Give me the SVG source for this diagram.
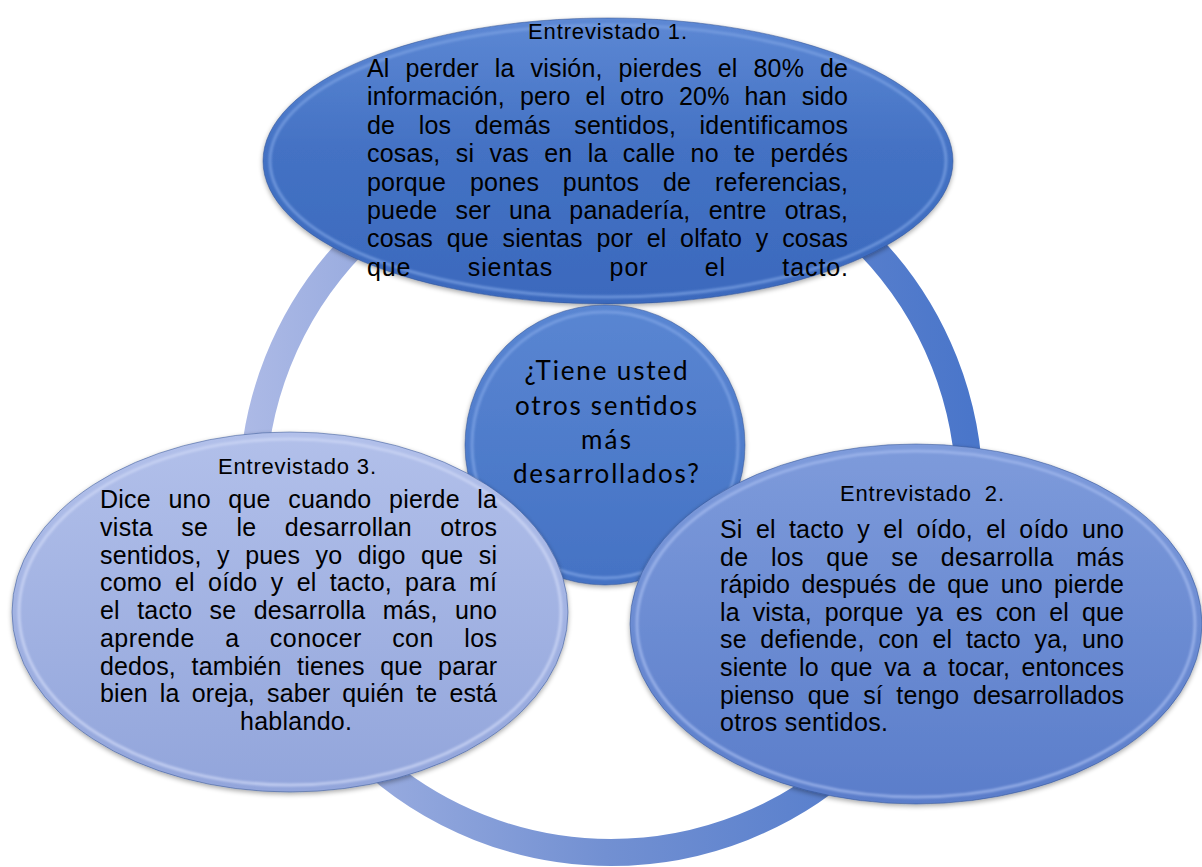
<svg xmlns="http://www.w3.org/2000/svg" width="1202" height="867" viewBox="0 0 1202 867">
<defs>
  <linearGradient id="ringGrad" gradientUnits="userSpaceOnUse" x1="240" y1="0" x2="970" y2="0">
    <stop offset="0" stop-color="#adbae6"/>
    <stop offset="0.5" stop-color="#7290d2"/>
    <stop offset="1" stop-color="#4a76ca"/>
  </linearGradient>
  <linearGradient id="gTop" x1="0" y1="0" x2="0" y2="1">
    <stop offset="0" stop-color="#5d88d4"/>
    <stop offset="0.45" stop-color="#4472c4"/>
    <stop offset="1" stop-color="#3b69bd"/>
  </linearGradient>
  <linearGradient id="gCenter" x1="0" y1="0" x2="0" y2="1">
    <stop offset="0" stop-color="#5a86d2"/>
    <stop offset="1" stop-color="#4472c4"/>
  </linearGradient>
  <linearGradient id="gLeft" x1="0" y1="0" x2="0" y2="1">
    <stop offset="0" stop-color="#b2c0ea"/>
    <stop offset="1" stop-color="#92a5db"/>
  </linearGradient>
  <linearGradient id="gRight" x1="0" y1="0" x2="0" y2="1">
    <stop offset="0" stop-color="#7e9bdb"/>
    <stop offset="1" stop-color="#5a7dca"/>
  </linearGradient>
  <filter id="shadow" x="-10%" y="-10%" width="120%" height="125%">
    <feGaussianBlur in="SourceAlpha" stdDeviation="2.5"/>
    <feOffset dx="0" dy="2" result="b"/>
    <feComponentTransfer><feFuncA type="linear" slope="0.35"/></feComponentTransfer>
    <feMerge><feMergeNode/><feMergeNode in="SourceGraphic"/></feMerge>
  </filter>
  <filter id="soft" x="-5%" y="-5%" width="110%" height="110%">
    <feGaussianBlur stdDeviation="1.2"/>
  </filter>
</defs>
<style>
  .edge { stroke: #2f4f8f; stroke-width: 1; stroke-opacity: 0.5; }
  .rim { fill: none; stroke-width: 3; stroke-opacity: 0.75; }
  .body { font-family: "Liberation Sans", Arial, sans-serif; font-size: 25px; fill: #000; }
  .head { font-family: "Liberation Sans", Arial, sans-serif; font-size: 22px; fill: #000; text-anchor: middle; }
  .q { font-family: Lato, "Open Sans", sans-serif; font-size: 26px; fill: #000; text-anchor: middle; }
</style>
<rect width="1202" height="867" fill="#ffffff"/>

<g id="connectors">
  <circle cx="611" cy="494" r="358.5" fill="none" stroke="url(#ringGrad)" stroke-width="27"/>
</g>

<g id="node-entrevistado1">
  <ellipse cx="608" cy="161" rx="345" ry="143" fill="url(#gTop)" class="edge" filter="url(#shadow)"/>
  <ellipse cx="608" cy="161" rx="338" ry="136" class="rim" stroke="#7aa0e2" filter="url(#soft)"/>
  <text class="head" x="607.5" y="39" textLength="159" lengthAdjust="spacing">Entrevistado 1.</text>
  <text class="body" x="367" y="77" textLength="481" word-spacing="8.8">Al perder la visión, pierdes el 80% de</text>
  <text class="body" x="367" y="105.4" textLength="481" word-spacing="7.9">información, pero el otro 20% han sido</text>
  <text class="body" x="367" y="133.8" textLength="481" word-spacing="16.3">de los demás sentidos, identificamos</text>
  <text class="body" x="367" y="162.2" textLength="481" word-spacing="8.1">cosas, si vas en la calle no te perdés</text>
  <text class="body" x="367" y="190.6" textLength="481" word-spacing="16.6">porque pones puntos de referencias,</text>
  <text class="body" x="367" y="219" textLength="481" word-spacing="11.1">puede ser una panadería, entre otras,</text>
  <text class="body" x="367" y="247.4" textLength="481" word-spacing="6.6">cosas que sientas por el olfato y cosas</text>
  <text class="body" x="367" y="275.8" textLength="481" word-spacing="48.5">que sientas por el tacto.</text>
</g>

<g id="node-center">
  <circle cx="605" cy="445" r="140" fill="url(#gCenter)" class="edge" filter="url(#shadow)"/>
  <circle cx="605" cy="445" r="133" class="rim" stroke="#7ea3e4" filter="url(#soft)"/>
  <text class="q" x="606" y="380" textLength="163" lengthAdjust="spacing">¿Tiene usted</text>
  <text class="q" x="606" y="415" textLength="182" lengthAdjust="spacing">otros sentidos</text>
  <text class="q" x="606" y="449" textLength="50" lengthAdjust="spacing">más</text>
  <text class="q" x="606" y="483" textLength="186" lengthAdjust="spacing">desarrollados?</text>
</g>

<g id="node-entrevistado3">
  <ellipse cx="290" cy="612" rx="278" ry="180" fill="url(#gLeft)" class="edge" filter="url(#shadow)"/>
  <ellipse cx="290" cy="612" rx="271" ry="173" class="rim" stroke="#cdd7f5" filter="url(#soft)"/>
  <text class="head" x="297" y="474" textLength="158" lengthAdjust="spacing">Entrevistado 3.</text>
  <text class="body" x="100" y="508" textLength="397" word-spacing="10.4">Dice uno que cuando pierde la</text>
  <text class="body" x="100" y="535.75" textLength="397" word-spacing="20.9">vista se le desarrollan otros</text>
  <text class="body" x="100" y="563.5" textLength="397" word-spacing="8.3">sentidos, y pues yo digo que si</text>
  <text class="body" x="100" y="591.25" textLength="397" word-spacing="6.2">como el oído y el tacto, para mí</text>
  <text class="body" x="100" y="619" textLength="397" word-spacing="10.2">el tacto se desarrolla más, uno</text>
  <text class="body" x="100" y="646.75" textLength="397" word-spacing="23">aprende a conocer con los</text>
  <text class="body" x="100" y="674.5" textLength="397" word-spacing="8.6">dedos, también tienes que parar</text>
  <text class="body" x="100" y="702.25" textLength="397" word-spacing="5.1">bien la oreja, saber quién te está</text>
  <text class="body" x="296" y="730" text-anchor="middle" textLength="112">hablando.</text>
</g>

<g id="node-entrevistado2">
  <ellipse cx="916" cy="624" rx="286" ry="180" fill="url(#gRight)" class="edge" filter="url(#shadow)"/>
  <ellipse cx="916" cy="624" rx="279" ry="173" class="rim" stroke="#a3baee" filter="url(#soft)"/>
  <text class="head" x="922" y="501" textLength="164" lengthAdjust="spacing" word-spacing="6">Entrevistado 2.</text>
  <text class="body" x="720" y="538" textLength="404" word-spacing="6.2">Si el tacto y el oído, el oído uno</text>
  <text class="body" x="720" y="565.6" textLength="404" word-spacing="15.2">de los que se desarrolla más</text>
  <text class="body" x="720" y="593.2" textLength="404" word-spacing="4.4">rápido después de que uno pierde</text>
  <text class="body" x="720" y="620.8" textLength="404" word-spacing="5.9">la vista, porque ya es con el que</text>
  <text class="body" x="720" y="648.4" textLength="404" word-spacing="6.6">se defiende, con el tacto ya, uno</text>
  <text class="body" x="720" y="676" textLength="404" word-spacing="4.5">siente lo que va a tocar, entonces</text>
  <text class="body" x="720" y="703.6" textLength="404" word-spacing="6.5">pienso que sí tengo desarrollados</text>
  <text class="body" x="720" y="731.2" textLength="168">otros sentidos.</text>
</g>
</svg>
